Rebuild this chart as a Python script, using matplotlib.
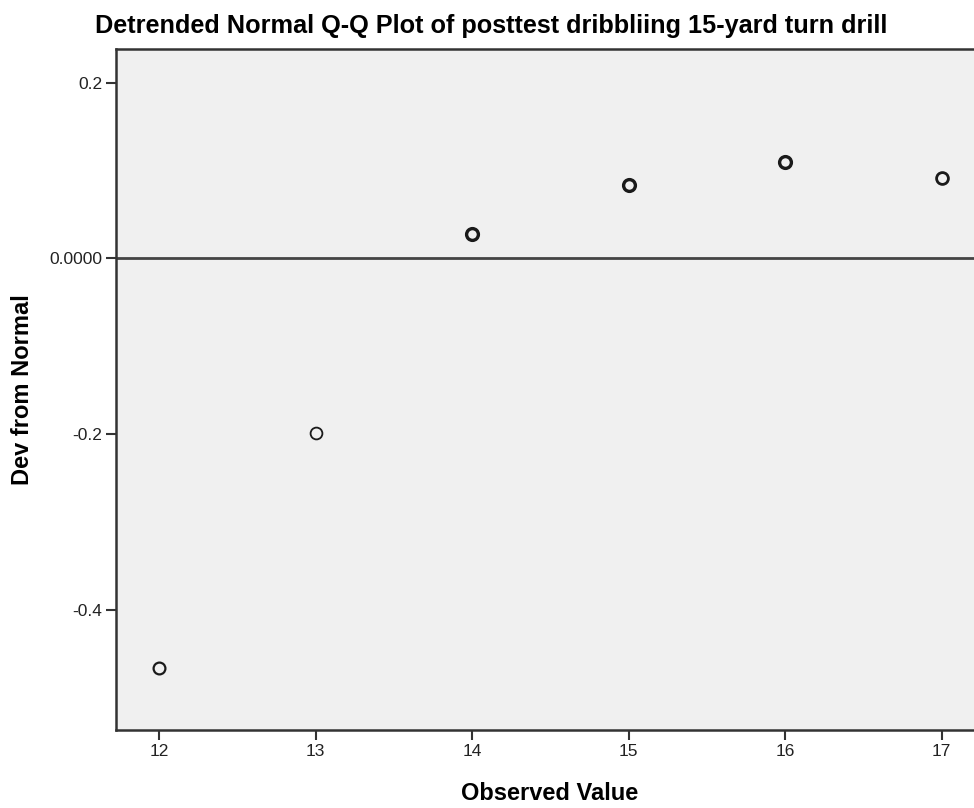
import matplotlib
matplotlib.use("Agg")
import matplotlib.pyplot as plt
from matplotlib import font_manager

# observed values and their deviation from normal
observed = [12, 13, 14, 15, 16, 17]
deviation = [-0.467, -0.199, 0.028, 0.084, 0.110, 0.091]
# heavier rings where several cases sit on top of each other
ring_width = [1.6, 1.3, 2.4, 2.4, 2.4, 2.0]

ytick_vals = [0.2, 0.0, -0.2, -0.4]
ytick_text = ["0.2", "0.0000", "-0.2", "-0.4"]
xtick_vals = [12, 13, 14, 15, 16, 17]

plt.rcParams['font.family'] = ['Liberation Sans', 'DejaVu Sans']

fig = plt.figure(figsize=(9.74, 8.08), dpi=100)
W, H = 974, 808
ax = fig.add_axes([116 / W, (H - 730) / H, (985 - 116) / W, (730 - 49) / H])
ax.set_facecolor("#f0f0f0")

ax.set_xlim(11.723, 17.277)
ax.set_ylim(-0.5372, 0.2384)

ax.axhline(0, color="#444444", linewidth=2.0, zorder=1)
for x, y, lw in zip(observed, deviation, ring_width):
    ax.plot(x, y, "o", markersize=8.5, markerfacecolor="none",
            markeredgecolor="#1a1a1a", markeredgewidth=lw, zorder=3)

ax.set_xticks(xtick_vals)
ax.set_xticklabels([str(v) for v in xtick_vals])
ax.set_yticks(ytick_vals)
ax.set_yticklabels(ytick_text)
ax.tick_params(axis="both", direction="out", length=7, width=1.5,
               color="#333333", labelsize=12.5, labelcolor="#222222", pad=3)

for side in ["left", "bottom", "top"]:
    ax.spines[side].set_color("#333333")
    ax.spines[side].set_linewidth(1.8)
ax.spines["right"].set_visible(False)

fig.text(491 / W, 1 - 26 / H,
         "Detrended Normal Q-Q Plot of posttest dribbliing 15-yard turn drill",
         ha="center", va="center", fontsize=18.2, fontweight="bold")
fig.text(550 / W, 1 - 793 / H, "Observed Value", ha="center", va="center",
         fontsize=17, fontweight="bold")
fig.text(23 / W, 1 - 390 / H, "Dev from Normal", ha="center", va="center",
         rotation=90, fontsize=17, fontweight="bold")

fig.savefig("out.png", dpi=100)
